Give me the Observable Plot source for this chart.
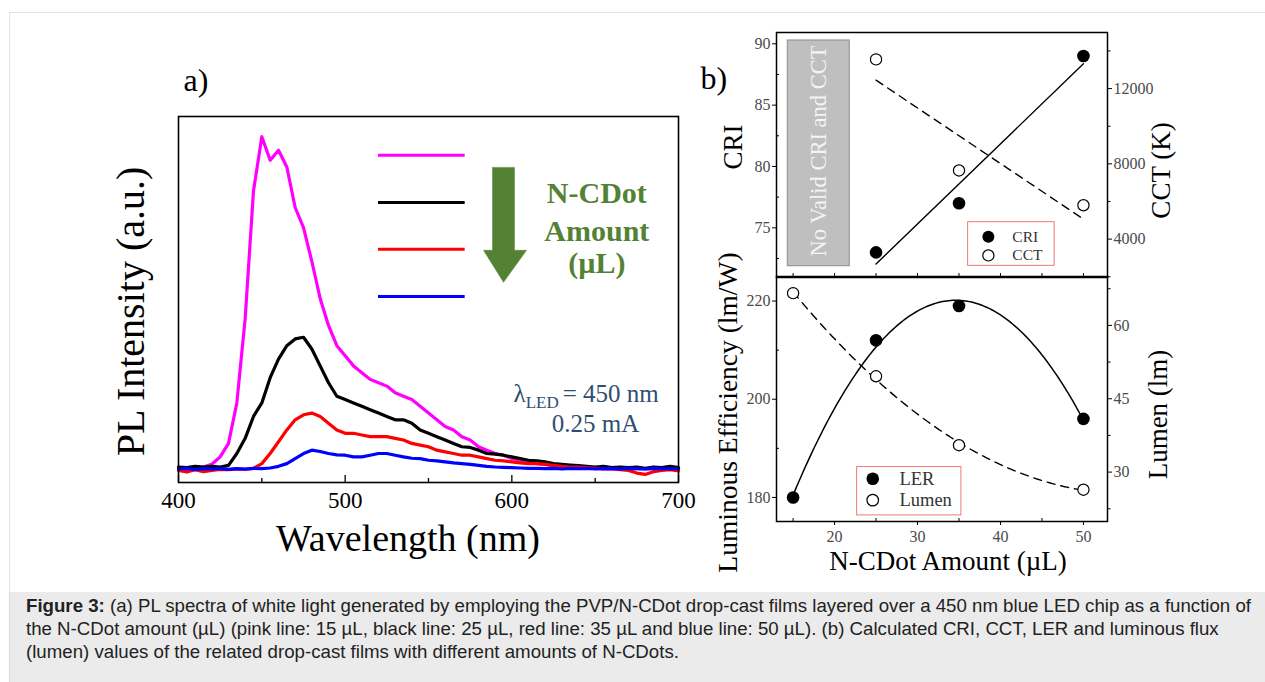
<!DOCTYPE html>
<html><head><meta charset="utf-8">
<script src="https://cdn.jsdelivr.net/npm/d3@7"></script>
<script src="https://cdn.jsdelivr.net/npm/@observablehq/plot@0.6"></script>
<style>
html,body{margin:0;padding:0;background:#fff;}
body{width:1265px;height:682px;position:relative;overflow:hidden;font-family:"Liberation Serif",serif;}
#fig{position:absolute;left:9px;top:12px;width:1256px;height:580px;border-top:1px solid #e2e2e2;border-left:1px solid #e2e2e2;box-sizing:border-box;}
.p{position:absolute;}
#cap{position:absolute;left:9px;top:592px;width:1256px;height:90px;background:#ebebeb;border-left:1px solid #d8d8d8;box-sizing:border-box;font-family:"Liberation Sans",Arial,sans-serif;color:#222;font-size:16.5px;line-height:23px;padding:2px 0 0 16px;white-space:nowrap;}
</style></head><body>
<div id="fig"></div>
<div id="pa" class="p" style="left:90px;top:40px;width:620px;height:540px"></div>
<div id="pt1" class="p" style="left:690px;top:20px;width:520px;height:265px"></div>
<div id="pt2" class="p" style="left:690px;top:20px;width:520px;height:265px"></div>
<div id="pb1" class="p" style="left:690px;top:270px;width:520px;height:320px"></div>
<div id="pb2" class="p" style="left:690px;top:270px;width:520px;height:320px"></div>
<div id="cap"><span id="l1"><b>Figure 3:</b> (a) PL spectra of white light generated by employing the PVP/N-CDot drop-cast films layered over a 450 nm blue LED chip as a function of</span><br>the N-CDot amount (µL) (pink line: 15 µL, black line: 25 µL, red line: 35 µL and blue line: 50 µL). (b) Calculated CRI, CCT, LER and luminous flux<br>(lumen) values of the related drop-cast films with different amounts of N-CDots.</div>
<script>
// ---------- panel (a) data ----------
const wavelengths = d3.range(400, 701, 5); // nm grid, 400..700
const pink15 = [
 0.005,0.003,0.008,0.010,0.018,0.040,0.080,0.200,0.450,0.830,
 0.990,0.920,0.950,0.900,0.780,0.720,0.620,0.510,0.430,0.370,
 0.340,0.310,0.290,0.270,0.260,0.250,0.230,0.220,0.210,0.190,
 0.170,0.150,0.130,0.120,0.100,0.090,0.070,0.060,0.050,0.045,
 0.035,0.030,0.025,0.020,0.018,0.015,0.012,0.010,0.008,0.008,
 0.006,0.005,0.006,0.004,0.005,0.006,0.004,0.005,0.006,0.004,
 0.005];
const black25 = [
 0.010,0.008,0.012,0.010,0.012,0.010,0.015,0.050,0.095,0.160,
 0.200,0.275,0.330,0.370,0.390,0.395,0.360,0.310,0.260,0.220,
 0.210,0.200,0.190,0.180,0.170,0.160,0.150,0.150,0.140,0.120,
 0.110,0.100,0.090,0.080,0.070,0.068,0.060,0.050,0.048,0.045,
 0.040,0.035,0.030,0.028,0.025,0.020,0.018,0.016,0.014,0.012,
 0.010,0.012,0.008,0.010,0.008,0.010,0.006,0.010,0.008,0.012,
 0.008];
const red35 = [
 0.000,-0.005,0.002,-0.004,0.000,0.003,0.002,0.004,0.003,0.006,
 0.020,0.050,0.085,0.120,0.150,0.165,0.170,0.160,0.140,0.120,
 0.110,0.110,0.105,0.100,0.100,0.100,0.095,0.090,0.080,0.075,
 0.070,0.060,0.055,0.050,0.045,0.045,0.040,0.035,0.030,0.028,
 0.025,0.022,0.020,0.020,0.018,0.015,0.012,0.010,0.010,0.008,
 0.006,0.004,0.005,0.002,0.000,-0.008,-0.012,-0.004,0.000,0.002,
 -0.002];
const blue50 = [
 0.004,0.006,0.002,0.005,0.004,0.006,0.003,0.005,0.004,0.006,
 0.005,0.007,0.012,0.020,0.035,0.050,0.060,0.056,0.050,0.046,
 0.045,0.040,0.040,0.045,0.050,0.050,0.045,0.040,0.036,0.035,
 0.030,0.028,0.025,0.022,0.020,0.018,0.015,0.012,0.010,0.009,
 0.008,0.007,0.006,0.006,0.005,0.006,0.004,0.006,0.005,0.006,
 0.004,0.006,0.005,0.004,0.006,0.005,0.004,0.006,0.005,0.004,
 0.005];
const seriesColors = ["#ff00ff", "#000000", "#ff0000", "#0000ff"];
const legendLevels = [0.935, 0.795, 0.656, 0.516];   // legend line heights (intensity units)
const xTicksA = [400, 500, 600, 700];
const xMinorA = [450, 550, 650];
const arrowShape = [[588.4,0.899],[601.6,0.899],[601.6,0.653],[608.8,0.653],[595,0.558],[583,0.653],[588.4,0.653],[588.4,0.899]];

// ---------- panel (b) data ----------
const amountTop = [25, 35, 50];
const criValues = [73, 77, 89];
const cctValues = [13550, 7650, 5800];
const amountBottom = [15, 25, 35, 50];
const lerValues = [180, 212, 219, 196];
const lumenValues = [66.6, 49.6, 35.5, 26.4];
const criTicks = [75, 80, 85, 90], criMinor = [72.5, 77.5, 82.5, 87.5];
const cctTicks = [4000, 8000, 12000], cctMinor = [2000, 6000, 10000, 14000];
const lerTicks = [180, 200, 220], lerMinor = [190, 210];
const lumenTicks = [30, 45, 60], lumenMinor = [22.5, 37.5, 52.5, 67.5];
const amountTicks = [20, 30, 40, 50], amountMinor = [15, 25, 35, 45];

const serif = "Liberation Serif";
const baseStyle = {fontFamily: serif, background: "transparent", overflow: "visible", maxWidth: "none"};
const plainNum = d => String(d);

// ---------- panel (a) ----------
const specRows = (vals) => vals.map((v, i) => ({wl: wavelengths[i], v}));
const A_W = 620, A_H = 540, A_ML = 88, A_MR = 32, A_MT = 76, A_MB = 98;
const A_IH = A_H - A_MT - A_MB;
const plotA = Plot.plot({
  width: A_W, height: A_H, marginLeft: A_ML, marginRight: A_MR, marginTop: A_MT, marginBottom: A_MB,
  x: {domain: [400, 700]},
  y: {domain: [-0.036, 1.05], axis: null},
  style: baseStyle,
  marks: [
    ...[pink15, black25, red35, blue50].map((s, k) =>
      Plot.line(specRows(s), {x: "wl", y: "v", stroke: seriesColors[k], strokeWidth: 3.2, strokeLinejoin: "round"})),
    ...legendLevels.map((ly, k) =>
      Plot.ruleY([ly], {x1: 520, x2: 572, stroke: seriesColors[k], strokeWidth: 3})),
    Plot.line(arrowShape, {x: d => d[0], y: d => d[1], fill: "#548235", stroke: "#548235", strokeWidth: 0.5}),
    Plot.text([{x: 651, y: 0.792, t: "N-CDot"}, {x: 651, y: 0.682, t: "Amount"}, {x: 651, y: 0.585, t: "(µL)"}],
      {x: "x", y: "y", text: "t", fontSize: 30, fontWeight: "bold", fill: "#548235", lineAnchor: "bottom"}),
    Plot.text([{x: 601, y: 0.2018, t: "λ"}], {x: "x", y: "y", text: "t", fontSize: 25, fill: "#2f4e6f", textAnchor: "start", lineAnchor: "bottom"}),
    Plot.text([{x: 608.3, y: 0.184, t: "LED"}], {x: "x", y: "y", text: "t", fontSize: 17, fill: "#2f4e6f", textAnchor: "start", lineAnchor: "bottom"}),
    Plot.text([{x: 630.5, y: 0.2018, t: "= 450 nm"}], {x: "x", y: "y", text: "t", fontSize: 25, fill: "#2f4e6f", textAnchor: "start", lineAnchor: "bottom"}),
    Plot.text([{x: 650.2, y: 0.113, t: "0.25 mA"}], {x: "x", y: "y", text: "t", fontSize: 25, fill: "#2f4e6f", lineAnchor: "bottom"}),
    Plot.ruleX(xTicksA, {insetTop: A_IH - 7, stroke: "black", strokeWidth: 1.3}),
    Plot.ruleX(xMinorA, {insetTop: A_IH - 4, stroke: "black", strokeWidth: 1.3}),
    Plot.frame({stroke: "black", strokeWidth: 1.6}),
    Plot.axisX({ticks: xTicksA, tickSize: 0, tickPadding: 9, fontSize: 23, fill: "black", label: null}),
    Plot.text(["Wavelength (nm)"], {text: d => d, frameAnchor: "bottom", dx: -20.5, dy: 68, textAnchor: "middle", lineAnchor: "bottom", fontSize: 38, fill: "black"}),
    Plot.text(["PL Intensity (a.u.)"], {text: d => d, frameAnchor: "left", dx: -47, dy: 12, rotate: -90, textAnchor: "middle", lineAnchor: "middle", fontSize: 40, fill: "black"}),
    Plot.text(["a)"], {text: d => d, frameAnchor: "top-left", dx: 5, dy: -26, textAnchor: "start", lineAnchor: "bottom", fontSize: 32, fill: "black"})
  ]
});
document.getElementById("pa").append(plotA);

// ---------- panel (b) helpers ----------
const B_W = 520, B_ML = 86, B_MR = 103;
const B_IW = B_W - B_ML - B_MR;
const xDomB = [13, 52.9];
const tickGray = "#4a4a4a";

function quadFit(xs, ys) {
  const S = [0,0,0,0,0], T = [0,0,0];
  xs.forEach((x, i) => { for (let k = 0; k < 5; k++) S[k] += x ** k; for (let k = 0; k < 3; k++) T[k] += ys[i] * x ** k; });
  const M = [[S[0],S[1],S[2],T[0]],[S[1],S[2],S[3],T[1]],[S[2],S[3],S[4],T[2]]];
  for (let c = 0; c < 3; c++) {
    let p = c; for (let r = c + 1; r < 3; r++) if (Math.abs(M[r][c]) > Math.abs(M[p][c])) p = r;
    [M[c], M[p]] = [M[p], M[c]];
    for (let r = 0; r < 3; r++) if (r !== c) { const f = M[r][c] / M[c][c]; for (let k = c; k < 4; k++) M[r][k] -= f * M[c][k]; }
  }
  const co = [M[0][3]/M[0][0], M[1][3]/M[1][1], M[2][3]/M[2][2]];
  return d3.range(xs[0], xs[xs.length-1] + 1e-9, 0.25).map(x => ({x, y: co[0] + co[1]*x + co[2]*x*x}));
}

const criRows = amountTop.map((x, i) => ({x, y: criValues[i]}));
const cctRows = amountTop.map((x, i) => ({x, y: cctValues[i]}));
const lerRows = amountBottom.map((x, i) => ({x, y: lerValues[i]}));
const lumenRows = amountBottom.map((x, i) => ({x, y: lumenValues[i]}));

// ---------- top panel: CRI (left axis) ----------
const T_H = 265, T_MT = 12, T_MB = 8, T_IH = T_H - T_MT - T_MB;
const plotT1 = Plot.plot({
  width: B_W, height: T_H, marginLeft: B_ML, marginRight: B_MR, marginTop: T_MT, marginBottom: T_MB,
  x: {domain: xDomB, axis: null},
  y: {domain: [70.95, 90.92]},
  style: baseStyle,
  marks: [
    Plot.rect([{x1: 14.36, x2: 21.83, y1: 71.87, y2: 90.27}], {x1: "x1", x2: "x2", y1: "y1", y2: "y2", fill: "#bfbfbf", stroke: "#8c8c8c", strokeWidth: 1}),
    Plot.text([{x: 18.1, y: 81.26, t: "No Valid CRI and CCT"}], {x: "x", y: "y", text: "t", rotate: -90, fontSize: 22.5, fill: "#f4f4f4"}),
    Plot.axisY({ticks: criTicks, tickSize: 4, tickPadding: 2, fontSize: 16, fill: tickGray, stroke: "black", label: null, tickFormat: plainNum}),
    Plot.ruleY(criMinor, {insetRight: B_IW - 3, stroke: "black"}),
    Plot.ruleX([15, 20, 25, 30, 35, 40, 45, 50], {insetTop: T_IH - 4, stroke: "black"}),
    Plot.frame({stroke: "black", strokeWidth: 1.5}),
    Plot.linearRegressionY(criRows, {x: "x", y: "y", stroke: "black", strokeWidth: 1.4, ci: 0}),
    Plot.dot(criRows, {x: "x", y: "y", r: 6.3, fill: "black"}),
    Plot.rect([{x1: 36.1, x2: 46.53, y1: 71.90, y2: 75.46}], {x1: "x1", x2: "x2", y1: "y1", y2: "y2", fill: "white", stroke: "#ee7777", strokeWidth: 1}),
    Plot.dot([{x: 38.54, y: 74.27}], {x: "x", y: "y", r: 6, fill: "black"}),
    Plot.dot([{x: 38.54, y: 72.75}], {x: "x", y: "y", r: 5.6, fill: "white", stroke: "black", strokeWidth: 1.2}),
    Plot.text([{x: 41.43, y: 74.27, t: "CRI"}, {x: 41.43, y: 72.75, t: "CCT"}], {x: "x", y: "y", text: "t", textAnchor: "start", fontSize: 15.5, fill: "#333"}),
    Plot.text(["CRI"], {text: d => d, frameAnchor: "left", dx: -43, dy: -8, rotate: -90, textAnchor: "middle", lineAnchor: "middle", fontSize: 27, fill: "black"}),
    Plot.text(["b)"], {text: d => d, frameAnchor: "top-left", dx: -76, dy: 56, textAnchor: "start", lineAnchor: "bottom", fontSize: 32, fill: "black"})
  ]
});
document.getElementById("pt1").append(plotT1);

// ---------- top panel: CCT (right axis) ----------
const plotT2 = Plot.plot({
  width: B_W, height: T_H, marginLeft: B_ML, marginRight: B_MR, marginTop: T_MT, marginBottom: T_MB,
  x: {domain: xDomB, axis: null},
  y: {domain: [1960, 14980]},
  style: baseStyle,
  marks: [
    Plot.axisY({anchor: "right", ticks: cctTicks, tickSize: 4, tickPadding: 2, fontSize: 16, fill: tickGray, stroke: "black", label: null, tickFormat: plainNum}),
    Plot.axisY({anchor: "right", ticks: cctMinor, tickSize: 2.5, tickFormat: () => "", stroke: "black", label: null}),
    Plot.linearRegressionY(cctRows, {x: "x", y: "y", stroke: "black", strokeWidth: 1.4, strokeDasharray: "8,6", ci: 0}),
    Plot.dot(cctRows, {x: "x", y: "y", r: 5.6, fill: "white", stroke: "black", strokeWidth: 1.2}),
    Plot.text(["CCT (K)"], {text: d => d, frameAnchor: "right", dx: 54, dy: 15.5, rotate: -90, textAnchor: "middle", lineAnchor: "middle", fontSize: 27, fill: "black"})
  ]
});
document.getElementById("pt2").append(plotT2);

// ---------- bottom panel: LER (left axis) ----------
const L_H = 320, L_MT = 6, L_MB = 69, L_IH = L_H - L_MT - L_MB;
const plotB1 = Plot.plot({
  width: B_W, height: L_H, marginLeft: B_ML, marginRight: B_MR, marginTop: L_MT, marginBottom: L_MB,
  x: {domain: xDomB},
  y: {domain: [175.1, 225.0]},
  style: baseStyle,
  marks: [
    Plot.axisY({ticks: lerTicks, tickSize: 4, tickPadding: 2, fontSize: 16, fill: tickGray, stroke: "black", label: null, tickFormat: plainNum}),
    Plot.ruleY(lerMinor, {insetRight: B_IW - 3, stroke: "black"}),
    Plot.axisX({ticks: amountTicks, tickSize: 4, tickPadding: 5, fontSize: 16, fill: tickGray, stroke: "black", label: null, tickFormat: plainNum}),
    Plot.ruleX(amountMinor, {insetTop: L_IH - 3, stroke: "black"}),
    Plot.frame({stroke: "black", strokeWidth: 1.5}),
    Plot.line(quadFit(amountBottom, lerValues), {x: "x", y: "y", stroke: "black", strokeWidth: 1.5}),
    Plot.dot(lerRows, {x: "x", y: "y", r: 6.3, fill: "black"}),
    Plot.rect([{x1: 22.72, x2: 35.29, y1: 176.34, y2: 186.18}], {x1: "x1", x2: "x2", y1: "y1", y2: "y2", fill: "white", stroke: "#ee7777", strokeWidth: 1}),
    Plot.dot([{x: 24.6, y: 183.81}], {x: "x", y: "y", r: 6.3, fill: "black"}),
    Plot.dot([{x: 24.6, y: 179.45}], {x: "x", y: "y", r: 5.8, fill: "white", stroke: "black", strokeWidth: 1.2}),
    Plot.text([{x: 27.82, y: 183.81, t: "LER"}, {x: 27.82, y: 179.45, t: "Lumen"}], {x: "x", y: "y", text: "t", textAnchor: "start", fontSize: 18.5, fill: "#333"}),
    Plot.text(["Luminous Efficiency (lm/W)"], {text: d => d, frameAnchor: "left", dx: -48, dy: 13.5, rotate: -90, textAnchor: "middle", lineAnchor: "middle", fontSize: 27.5, fill: "black"}),
    Plot.text(["N-CDot Amount (µL)"], {text: d => d, frameAnchor: "bottom", dx: 6, dy: 48, textAnchor: "middle", lineAnchor: "bottom", fontSize: 27, fill: "black"})
  ]
});
document.getElementById("pb1").append(plotB1);

// ---------- bottom panel: Lumen (right axis) ----------
const plotB2 = Plot.plot({
  width: B_W, height: L_H, marginLeft: B_ML, marginRight: B_MR, marginTop: L_MT, marginBottom: L_MB,
  x: {domain: xDomB, axis: null},
  y: {domain: [19.9, 70.0]},
  style: baseStyle,
  marks: [
    Plot.axisY({anchor: "right", ticks: lumenTicks, tickSize: 4, tickPadding: 2, fontSize: 16, fill: tickGray, stroke: "black", label: null, tickFormat: plainNum}),
    Plot.axisY({anchor: "right", ticks: lumenMinor, tickSize: 2.5, tickFormat: () => "", stroke: "black", label: null}),
    Plot.line(quadFit(amountBottom, lumenValues), {x: "x", y: "y", stroke: "black", strokeWidth: 1.4, strokeDasharray: "8,6"}),
    Plot.dot(lumenRows, {x: "x", y: "y", r: 5.6, fill: "white", stroke: "black", strokeWidth: 1.2}),
    Plot.text(["Lumen (lm)"], {text: d => d, frameAnchor: "right", dx: 51, dy: 15.5, rotate: -90, textAnchor: "middle", lineAnchor: "middle", fontSize: 27, fill: "black"})
  ]
});
document.getElementById("pb2").append(plotB2);

// caption: fit first line to the reference width
(function () {
  const cap = document.getElementById("cap"), l1 = document.getElementById("l1");
  const w = l1.getBoundingClientRect().width;
  const target = 1225;
  const fs = 16.5 * target / w;
  cap.style.fontSize = fs.toFixed(2) + "px";
})();
</script>
</body></html>
